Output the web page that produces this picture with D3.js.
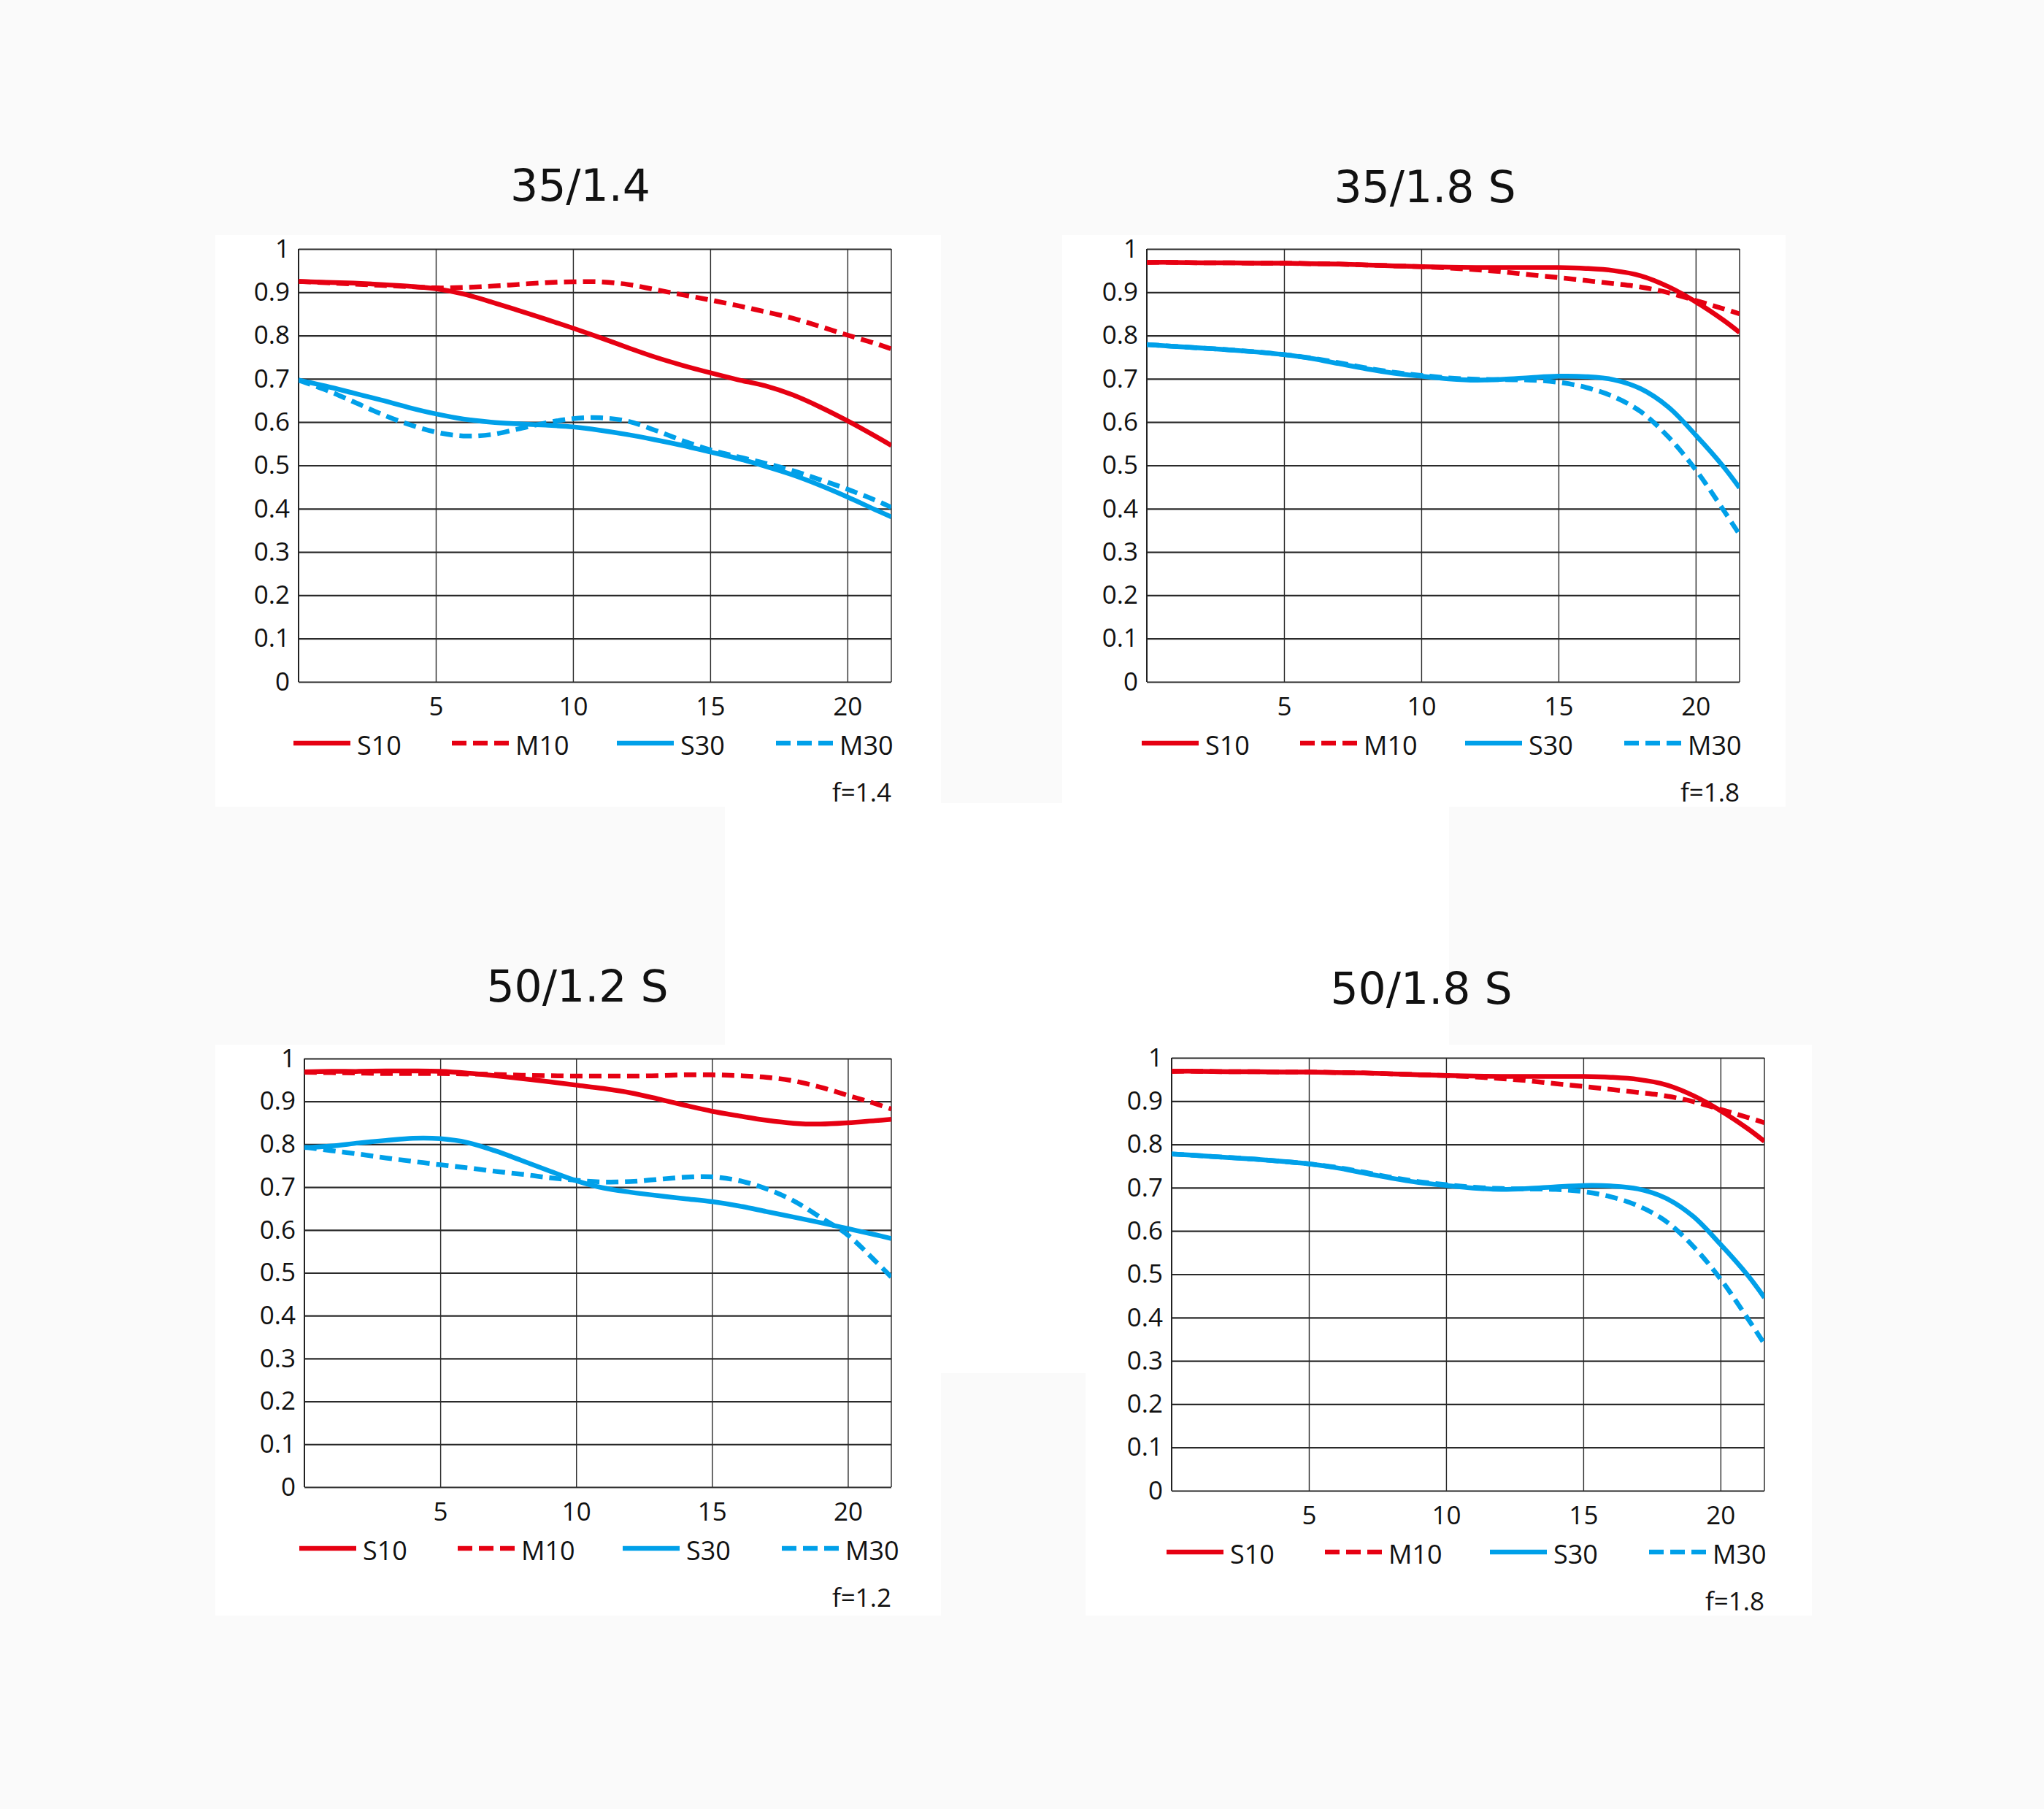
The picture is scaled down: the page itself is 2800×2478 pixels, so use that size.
<!DOCTYPE html>
<meta charset="utf-8">
<title>MTF charts</title>
<script src="https://d3js.org/d3.v7.min.js"></script>
<style>
  body { margin: 0; background: #fafafa; }
  svg { display: block; }
</style>
<body>
<script>

// ---- data ----
var titles = ["35/1.4", "35/1.8 S", "50/1.2 S", "50/1.8 S"];
var apertures = ["f=1.4", "f=1.8", "f=1.2", "f=1.8"];
var seriesNames = ["S10", "M10", "S30", "M30"];

// distance from image centre (mm)
var imageHeight = [0, 1, 2, 3, 4, 5, 6, 7, 8, 9, 10, 11, 12, 13, 14, 15, 16, 17, 18, 19, 20, 21, 21.6];
var xTicks = [5, 10, 15, 20];
var yTicks = [0, 0.1, 0.2, 0.3, 0.4, 0.5, 0.6, 0.7, 0.8, 0.9, 1];
var yTickLabels = ["0", "0.1", "0.2", "0.3", "0.4", "0.5", "0.6", "0.7", "0.8", "0.9", "1"];
var xTickLabels = ["5", "10", "15", "20"];

// 35/1.4
var l35f14_S10 = [0.925,0.923,0.921,0.918,0.914,0.908,0.896,0.878,0.858,0.838,0.817,0.795,0.772,0.750,0.731,0.714,0.698,0.684,0.663,0.635,0.603,0.568,0.546];
var l35f14_M10 = [0.925,0.922,0.919,0.916,0.913,0.910,0.911,0.914,0.918,0.922,0.924,0.924,0.918,0.906,0.894,0.882,0.869,0.855,0.840,0.821,0.801,0.782,0.769];
var l35f14_S30 = [0.697,0.683,0.667,0.651,0.634,0.619,0.607,0.600,0.596,0.593,0.589,0.581,0.571,0.559,0.546,0.531,0.516,0.498,0.478,0.454,0.427,0.398,0.381];
var l35f14_M30 = [0.697,0.674,0.647,0.619,0.595,0.577,0.568,0.571,0.584,0.598,0.608,0.610,0.602,0.581,0.557,0.536,0.520,0.505,0.488,0.467,0.445,0.420,0.403];

// 35/1.8 S
var l35f18_S10 = [0.969,0.969,0.968,0.968,0.967,0.967,0.966,0.965,0.963,0.961,0.959,0.958,0.957,0.957,0.957,0.957,0.955,0.950,0.938,0.913,0.878,0.836,0.807];
var l35f18_M10 = [0.969,0.969,0.968,0.968,0.967,0.967,0.966,0.965,0.963,0.961,0.959,0.956,0.952,0.947,0.940,0.934,0.927,0.920,0.912,0.899,0.881,0.862,0.850];
var l35f18_S30 = [0.779,0.775,0.771,0.767,0.762,0.756,0.747,0.735,0.723,0.713,0.706,0.700,0.697,0.699,0.703,0.706,0.705,0.698,0.677,0.635,0.570,0.498,0.448];
var l35f18_M30 = [0.779,0.775,0.771,0.767,0.762,0.756,0.748,0.737,0.725,0.715,0.708,0.702,0.699,0.698,0.697,0.692,0.680,0.659,0.624,0.566,0.490,0.398,0.340];

// 50/1.2 S
var l50f12_S10 = [0.969,0.970,0.970,0.971,0.971,0.970,0.966,0.960,0.953,0.946,0.938,0.930,0.920,0.906,0.891,0.877,0.866,0.856,0.849,0.847,0.850,0.855,0.858];
var l50f12_M10 = [0.968,0.967,0.966,0.965,0.965,0.965,0.964,0.963,0.961,0.960,0.959,0.959,0.959,0.960,0.962,0.962,0.960,0.956,0.948,0.933,0.914,0.895,0.882];
var l50f12_S30 = [0.792,0.796,0.803,0.809,0.814,0.813,0.804,0.785,0.762,0.738,0.715,0.698,0.688,0.680,0.673,0.666,0.656,0.643,0.630,0.617,0.603,0.589,0.580];
var l50f12_M30 = [0.793,0.785,0.777,0.768,0.760,0.752,0.745,0.737,0.730,0.722,0.716,0.712,0.713,0.718,0.723,0.724,0.715,0.696,0.668,0.629,0.588,0.528,0.490];

// 50/1.8 S
var l50f18_S10 = [0.969,0.969,0.968,0.968,0.967,0.967,0.966,0.965,0.963,0.961,0.959,0.958,0.957,0.957,0.957,0.957,0.955,0.950,0.938,0.913,0.878,0.836,0.807];
var l50f18_M10 = [0.969,0.969,0.968,0.968,0.967,0.967,0.966,0.965,0.963,0.961,0.959,0.956,0.952,0.947,0.940,0.934,0.927,0.920,0.912,0.899,0.881,0.862,0.850];
var l50f18_S30 = [0.778,0.774,0.770,0.766,0.761,0.755,0.746,0.734,0.722,0.712,0.705,0.699,0.696,0.698,0.702,0.705,0.704,0.697,0.676,0.634,0.569,0.497,0.446];
var l50f18_M30 = [0.778,0.774,0.770,0.766,0.761,0.755,0.747,0.736,0.724,0.714,0.707,0.701,0.698,0.697,0.696,0.691,0.679,0.658,0.623,0.565,0.489,0.397,0.339];

var panelSeries = [
  [l35f14_S10, l35f14_M10, l35f14_S30, l35f14_M30],
  [l35f18_S10, l35f18_M10, l35f18_S30, l35f18_M30],
  [l50f12_S10, l50f12_M10, l50f12_S30, l50f12_M30],
  [l50f18_S10, l50f18_M10, l50f18_S30, l50f18_M30]
];

// ---- layout ----
var W = 2800, H = 2478;
var red = "#e60012", blue = "#00a0e9";
var seriesColor = [red, red, blue, blue];
var seriesDash = [null, "17,9", null, "17,9"];

var layout = [
  { left: 409, right: 1221, top: 341, bottom: 934, titleX: 795, titleY: 275 },
  { left: 1571, right: 2383, top: 341, bottom: 934, titleX: 1952, titleY: 277 },
  { left: 417, right: 1221, top: 1450, bottom: 2037, titleX: 791, titleY: 1372 },
  { left: 1605, right: 2417, top: 1449, bottom: 2042, titleX: 1947, titleY: 1375 }
];

// white paper patches on the light grey page
var patches = [
  [295, 322, 1289, 1105],
  [1455, 322, 2446, 1105],
  [993, 1100, 1985, 1881],
  [295, 1431, 1289, 2213],
  [1487, 1431, 2482, 2213]
];

var legendOffset = [-7, 210, 436, 654];

var svg = d3.select("body")
  .append("svg")
  .attr("width", W)
  .attr("height", H);

svg.append("rect").attr("width", W).attr("height", H).attr("fill", "#fafafa");

svg.selectAll("rect.patch")
  .data(patches)
  .enter()
  .append("rect")
    .attr("class", "patch")
    .attr("x", function(d) { return d[0]; })
    .attr("y", function(d) { return d[1]; })
    .attr("width", function(d) { return d[2] - d[0]; })
    .attr("height", function(d) { return d[3] - d[1]; })
    .attr("fill", "#ffffff");

layout.forEach(function(p, k) {
  var x = d3.scaleLinear().domain([0, 21.6]).range([p.left, p.right]);
  var y = d3.scaleLinear().domain([0, 1]).range([p.bottom, p.top]);
  var g = svg.append("g");

  // title
  g.append("text")
    .attr("x", p.titleX)
    .attr("y", p.titleY)
    .attr("text-anchor", "middle")
    .attr("font-family", "DejaVu Sans")
    .attr("font-size", 60)
    .attr("fill", "#111")
    .text(titles[k]);

  // horizontal grid
  var hg = g.append("g")
    .attr("transform", "translate(" + p.left + ",0)")
    .call(d3.axisLeft(y).tickValues(yTicks).tickSize(-(p.right - p.left)).tickFormat(""));
  hg.select(".domain").remove();
  hg.selectAll("line").attr("stroke", "#2a2a2a").attr("stroke-width", 2.2);

  // vertical grid
  var vg = g.append("g")
    .attr("transform", "translate(0," + p.bottom + ")")
    .call(d3.axisBottom(x).tickValues(xTicks).tickSize(-(p.bottom - p.top)).tickFormat(""));
  vg.select(".domain").remove();
  vg.selectAll("line").attr("stroke", "#2a2a2a").attr("stroke-width", 1.4);

  // frame sides
  g.append("line").attr("x1", p.left).attr("x2", p.left).attr("y1", p.top).attr("y2", p.bottom)
    .attr("stroke", "#222").attr("stroke-width", 2);
  g.append("line").attr("x1", p.right).attr("x2", p.right).attr("y1", p.top).attr("y2", p.bottom)
    .attr("stroke", "#222").attr("stroke-width", 1.4);

  // y labels
  var yl = g.append("g")
    .attr("transform", "translate(" + p.left + ",0)")
    .call(d3.axisLeft(y).tickValues(yTicks).tickSize(0).tickPadding(12)
      .tickFormat(function(d, i) { return yTickLabels[i]; }));
  yl.select(".domain").remove();
  yl.selectAll("text")
    .attr("font-family", "Open Sans")
    .attr("font-size", 35)
    .attr("fill", "#111");

  // x labels
  var xl = g.append("g")
    .attr("transform", "translate(0," + p.bottom + ")")
    .call(d3.axisBottom(x).tickValues(xTicks).tickSize(0).tickPadding(21)
      .tickFormat(function(d, i) { return xTickLabels[i]; }));
  xl.select(".domain").remove();
  xl.selectAll("text")
    .attr("font-family", "Open Sans")
    .attr("font-size", 35)
    .attr("fill", "#111");

  // curves
  var clipId = "clip" + k;
  svg.append("clipPath").attr("id", clipId)
    .append("rect")
      .attr("x", p.left).attr("y", p.top - 10)
      .attr("width", p.right - p.left).attr("height", p.bottom - p.top + 20);

  var line = d3.line()
    .x(function(d, i) { return x(imageHeight[i]); })
    .y(function(d) { return y(d); })
    .curve(d3.curveCatmullRom.alpha(0.5));

  g.append("g")
    .attr("clip-path", "url(#" + clipId + ")")
    .selectAll("path")
    .data(panelSeries[k])
    .enter()
    .append("path")
      .attr("d", line)
      .attr("fill", "none")
      .attr("stroke", function(d, i) { return seriesColor[i]; })
      .attr("stroke-width", 6.5)
      .attr("stroke-dasharray", function(d, i) { return seriesDash[i]; });

  // legend
  var lg = g.selectAll("g.legend")
    .data(seriesNames)
    .enter()
    .append("g")
      .attr("class", "legend")
      .attr("transform", function(d, i) {
        return "translate(" + (p.left + legendOffset[i]) + "," + (p.bottom + 84) + ")";
      });
  lg.append("line")
    .attr("x1", 0).attr("x2", 78)
    .attr("stroke", function(d, i) { return seriesColor[i]; })
    .attr("stroke-width", 6.5)
    .attr("stroke-dasharray", function(d, i) { return seriesDash[i] ? "20,9" : null; });
  lg.append("text")
    .attr("x", 87)
    .attr("y", 16)
    .attr("font-family", "Open Sans")
    .attr("font-size", 36)
    .attr("fill", "#111")
    .text(function(d) { return d; });

  // aperture note
  g.append("text")
    .attr("x", p.right)
    .attr("y", p.bottom + 164)
    .attr("text-anchor", "end")
    .attr("font-family", "Open Sans")
    .attr("font-size", 35)
    .attr("fill", "#111")
    .text(apertures[k]);
});

</script>
</body>
